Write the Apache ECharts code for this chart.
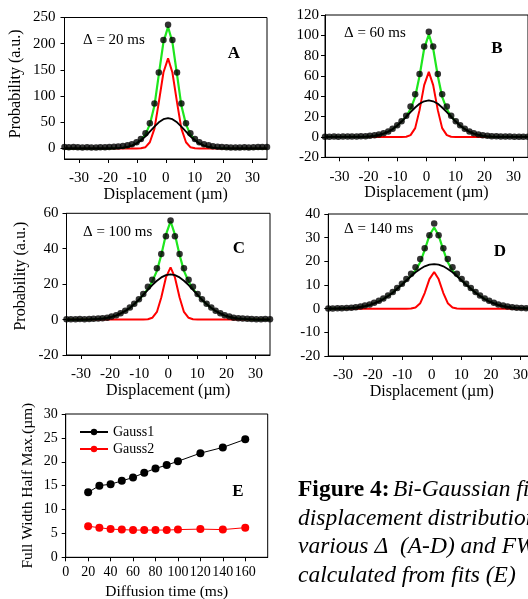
<!DOCTYPE html>
<html><head><meta charset="utf-8">
<script src="https://cdn.jsdelivr.net/npm/echarts@6/dist/echarts.min.js"></script>
<style>html,body{margin:0;padding:0;background:#fff}#c{width:528px;height:599px}</style>
</head><body><div id="c"></div><script>
const FONT = '"Liberation Serif","Times New Roman",serif';

// Displacement grid (µm), shared by panels A-D
const displacement = [-35.0,-33.5,-31.9,-30.4,-28.8,-27.2,-25.7,-24.1,-22.6,-21.0,-19.5,-17.9,-16.4,-14.8,-13.2,-11.7,-10.1,-8.6,-7.0,-5.5,-3.9,-2.4,-0.8,0.8,2.3,3.9,5.4,7.0,8.5,10.1,11.6,13.2,14.8,16.3,17.9,19.4,21.0,22.5,24.1,25.6,27.2,28.7,30.3,31.9,33.4,35.0];

// Panel A (Δ = 20 ms)
const A_dots  = [3,2.5,3,2.5,2,2.5,2,2,2.5,2.5,3,3.5,4,5,6,8,12,18,29,48,86,145,207,236,207,145,86,48,29,18,12,8,6,4.5,3.5,3,2.5,2,2,2,2.5,2,2.5,3,3,3];
const A_green = [0,0,0,0,0,0,0,0,0,0,0.4,0.6,1,1.8,3.2,5.8,10,16.5,27,46,82,141,203,232,203,141,82,46,27,16.5,10,5.8,3.2,1.8,1,0.6,0.4,0,0,0,0,0,0,0,0,0];
const A_red   = [0,0,0,0,0,0,0,0,0,0,0,0,0,0,0,0,0,0.4,2.5,12,38,88,145,172,145,88,38,12,2.5,0.4,0,0,0,0,0,0,0,0,0,0,0,0,0,0,0,0];
const A_black = [0,0,0,0,0,0,0,0,0,0,0.1,0.3,0.7,1.5,2.9,5.5,9.6,15.4,23.1,32.2,41.6,50,56,58,56,50,41.6,32.2,23.1,15.4,9.6,5.5,2.9,1.5,0.7,0.3,0.1,0,0,0,0,0,0,0,0,0];

// Panel B (Δ = 60 ms)
const B_dots  = [0.3,0.3,0.4,0.3,0.4,0.4,0.5,0.5,0.6,0.8,1.1,1.6,2.4,3.7,5.5,8,11.5,15.5,21,30,42,62,89,103.5,89,62,42,30,21,15.5,11.5,8,5.5,3.7,2.4,1.6,1.1,0.8,0.6,0.5,0.4,0.4,0.3,0.3,0.3,0.3];
const B_green = [0,0,0,0,0,0,0,0,0.15,0.3,0.6,1.1,2,3.3,5.1,7.7,11.1,15.3,20.2,27.5,39.5,60,87,101,87,60,39.5,27.5,20.2,15.3,11.1,7.7,5.1,3.3,2,1.1,0.6,0.3,0.15,0,0,0,0,0,0,0];
const B_red   = [0,0,0,0,0,0,0,0,0,0,0,0,0,0,0,0,0,0,0.25,1.8,8.7,26.4,51,64,51,26.4,8.7,1.8,0.25,0,0,0,0,0,0,0,0,0,0,0,0,0,0,0,0,0];
const B_black = [0,0,0,0,0,0,0,0,0.15,0.3,0.6,1.1,2,3.3,5.1,7.7,11.1,15.2,19.7,24.5,29,32.7,35.1,36,35.1,32.7,29,24.5,19.7,15.2,11.1,7.7,5.1,3.3,2,1.1,0.6,0.3,0.15,0,0,0,0,0,0,0];

// Panel C (Δ = 100 ms)
const C_dots  = [0.2,0.2,0.2,0.3,0.2,0.3,0.4,0.6,0.8,1.1,1.7,2.5,3.6,5,6.8,9,11.5,14.5,18.5,22.5,29,37,47,56,47,37,29,22.5,18.5,14.5,11.5,9,6.8,5,3.6,2.5,1.7,1.1,0.8,0.6,0.4,0.3,0.2,0.2,0.3,0.2];
const C_green = [0,0,0,0,0,0.1,0.2,0.35,0.59,0.96,1.5,2.3,3.4,4.8,6.6,8.7,11.2,14,17.3,21.5,27.5,36.5,48,55.5,48,36.5,27.5,21.5,17.3,14,11.2,8.7,6.6,4.8,3.4,2.3,1.5,0.96,0.59,0.35,0.2,0.1,0,0,0,0];
const C_red   = [0,0,0,0,0,0,0,0,0,0,0,0,0,0,0,0,0,0,0.15,1,4.3,12.5,23.8,29.5,23.8,12.5,4.3,1,0.15,0,0,0,0,0,0,0,0,0,0,0,0,0,0,0,0,0];
const C_black = [0,0,0,0,0,0.1,0.2,0.35,0.59,0.96,1.5,2.3,3.4,4.8,6.6,8.7,11.2,13.9,16.8,19.5,21.9,23.8,25.1,25.5,25.1,23.8,21.9,19.5,16.8,13.9,11.2,8.7,6.6,4.8,3.4,2.3,1.5,0.96,0.59,0.35,0.2,0.1,0,0,0,0];

// Panel D (Δ = 140 ms)
const D_dots  = [0.1,0.1,0.2,0.2,0.3,0.4,0.6,0.9,1.3,1.8,2.5,3.3,4.3,5.6,7,8.7,10.5,12.5,14.8,17.5,21,25.5,31,36,31,25.5,21,17.5,14.8,12.5,10.5,8.7,7,5.6,4.3,3.3,2.5,1.8,1.3,0.9,0.6,0.4,0.3,0.2,0.2,0.1];
const D_green = [0.03,0.05,0.08,0.12,0.2,0.32,0.5,0.75,1.1,1.6,2.3,3.1,4.1,5.4,6.8,8.5,10.2,12,13.9,16.2,19.6,24.8,31,34.3,31,24.8,19.6,16.2,13.9,12,10.2,8.5,6.8,5.4,4.1,3.1,2.3,1.6,1.1,0.75,0.5,0.32,0.2,0.12,0.08,0.05];
const D_red   = [0,0,0,0,0,0,0,0,0,0,0,0,0,0,0,0,0,0,0.07,0.5,2.3,6.6,12.5,15.5,12.5,6.6,2.3,0.5,0.07,0,0,0,0,0,0,0,0,0,0,0,0,0,0,0,0,0];
const D_black = [0.02,0.04,0.07,0.11,0.19,0.3,0.46,0.7,1.05,1.5,2.2,3,4,5.3,6.7,8.4,10.1,11.9,13.7,15.4,16.8,17.9,18.6,18.8,18.6,17.9,16.8,15.4,13.7,11.9,10.1,8.4,6.7,5.3,4,3,2.2,1.5,1.05,0.7,0.46,0.3,0.19,0.11,0.07,0.04];

// Panel E
const diffusionTime = [20,30,40,50,60,70,80,90,100,120,140,160];
const gauss1 = [13.6,15.0,15.3,16.0,16.7,17.7,18.6,19.3,20.1,21.8,23.0,24.7];
const gauss2 = [6.5,6.2,5.9,5.8,5.7,5.7,5.7,5.7,5.8,5.9,5.8,6.2];

// Tick labels
const dispTicks = [-30,-20,-10,0,10,20,30];
const ticksA = [0,50,100,150,200,250];
const deltaLabels = ['Δ = 20 ms','Δ = 60 ms','Δ = 100 ms','Δ = 140 ms'];
const panelLetters = ['A','B','C','D','E'];

const panels = [
  {dots:A_dots, green:A_green, red:A_red, black:A_black, grid:{left:64.5,top:17.5,width:202.5,height:141.5}, y:{min:-20,max:250,custom:ticksA}, lm:9, yname:'Probability (a.u.)', ygap:41, ypad:9},
  {dots:B_dots, green:B_green, red:B_red, black:B_black, grid:{left:325,top:15,width:203,height:142.3}, y:{min:-20,max:120,interval:20}, lm:6},
  {dots:C_dots, green:C_green, red:C_red, black:C_black, grid:{left:66.5,top:213.3,width:203.5,height:141.7}, y:{min:-20,max:60,interval:20}, lm:8, yname:'Probability (a.u.)', ygap:38, ypad:16},
  {dots:D_dots, green:D_green, red:D_red, black:D_black, grid:{left:328.3,top:214,width:207,height:142}, y:{min:-20,max:40,interval:10}, lm:8}
];
const pairs = ys => displacement.map((x,i)=>[x, ys[i]]);
const blk = {color:'#000'};
const grids=[], xAxes=[], yAxes=[], series=[];
panels.forEach((p,i)=>{
  grids.push(Object.assign({show:true, borderColor:'#000', borderWidth:1, backgroundColor:'transparent', outerBoundsMode:'none', containLabel:false}, p.grid));
  xAxes.push({gridIndex:i, type:'value', min:-35, max:35,
    axisLine:{show:true, onZero:false, lineStyle:blk},
    axisTick:{show:true, customValues:dispTicks, length:4, lineStyle:blk},
    axisLabel:{customValues:dispTicks, margin:12, fontFamily:FONT, fontSize:15, color:'#000'},
    splitLine:{show:false},
    name:'Displacement (µm)', nameLocation:'middle', nameGap:26,
    nameTextStyle:{fontFamily:FONT, fontSize:16, color:'#000'}});
  const ya = {gridIndex:i, type:'value', min:p.y.min, max:p.y.max,
    axisLine:{show:true, onZero:false, lineStyle:blk},
    axisTick:{show:true, length:4, lineStyle:blk},
    axisLabel:{margin:p.lm, fontFamily:FONT, fontSize:15, color:'#000'},
    splitLine:{show:false}};
  if (p.y.interval) ya.interval = p.y.interval;
  if (p.y.custom) { ya.axisTick.customValues = p.y.custom; ya.axisLabel.customValues = p.y.custom; }
  if (p.yname) { ya.name = p.yname; ya.nameLocation='middle'; ya.nameGap=p.ygap;
    ya.nameTextStyle={fontFamily:FONT, fontSize:16, color:'#000', padding:[0,0,0,p.ypad]}; }
  yAxes.push(ya);
  series.push({type:'line', xAxisIndex:i, yAxisIndex:i, data:pairs(p.red), showSymbol:false, symbol:'none', lineStyle:{color:'#ff0000', width:2}, z:2, silent:true});
  series.push({type:'line', xAxisIndex:i, yAxisIndex:i, data:pairs(p.green), showSymbol:false, symbol:'none', lineStyle:{color:'#1ee61e', width:2.2}, z:3, silent:true});
  series.push({type:'line', xAxisIndex:i, yAxisIndex:i, data:pairs(p.black), showSymbol:false, symbol:'none', lineStyle:{color:'#000', width:1.8}, z:4, silent:true});
  series.push({type:'scatter', xAxisIndex:i, yAxisIndex:i, data:pairs(p.dots), symbol:'circle', symbolSize:6.5, itemStyle:{color:'#000'}, z:5, silent:true});
});
// Panel E
grids.push({show:true, borderColor:'#000', borderWidth:1, backgroundColor:'transparent', outerBoundsMode:'none', containLabel:false, left:65.7, top:414, width:202, height:143.3});
xAxes.push({gridIndex:4, type:'value', min:0, max:180, interval:20,
  axisLine:{show:true, onZero:false, lineStyle:blk}, axisTick:{show:true, length:4, lineStyle:blk},
  axisLabel:{showMaxLabel:false, margin:8, fontFamily:FONT, fontSize:14, color:'#000'}, splitLine:{show:false},
  name:'Diffusion time (ms)', nameLocation:'middle', nameGap:27, nameTextStyle:{fontFamily:FONT, fontSize:15.5, color:'#000'}});
yAxes.push({gridIndex:4, type:'value', min:0, max:30, interval:5,
  axisLine:{show:true, onZero:false, lineStyle:blk}, axisTick:{show:true, length:4, lineStyle:blk},
  axisLabel:{margin:8, fontFamily:FONT, fontSize:14, color:'#000'}, splitLine:{show:false},
  name:'Full Width Half Max.(µm)', nameLocation:'middle', nameGap:30, nameTextStyle:{fontFamily:FONT, fontSize:15.5, color:'#000'}});
series.push({name:'Gauss1', type:'line', xAxisIndex:4, yAxisIndex:4, data:diffusionTime.map((t,i)=>[t,gauss1[i]]), symbol:'circle', symbolSize:8, itemStyle:{color:'#000'}, lineStyle:{color:'#000', width:1}, z:5});
series.push({name:'Gauss2', type:'line', xAxisIndex:4, yAxisIndex:4, data:diffusionTime.map((t,i)=>[t,gauss2[i]]), symbol:'circle', symbolSize:8, itemStyle:{color:'#ff0000'}, lineStyle:{color:'#ff0000', width:1}, z:5});

const txt = (x,y,t,extra)=>({type:'text', x:x, y:y, silent:true, style:Object.assign({text:t, fill:'#000', font:'15px '+FONT, textAlign:'left', textVerticalAlign:'middle'}, extra||{})});
const graphics = [
  txt(83,40,deltaLabels[0]), txt(344,33,deltaLabels[1]), txt(83,232,deltaLabels[2]), txt(344,229,deltaLabels[3]),
  txt(234,54,panelLetters[0],{font:'bold 17px '+FONT, textAlign:'center'}),
  txt(497,49,panelLetters[1],{font:'bold 17px '+FONT, textAlign:'center'}),
  txt(239,249,panelLetters[2],{font:'bold 17px '+FONT, textAlign:'center'}),
  txt(500,252,panelLetters[3],{font:'bold 17px '+FONT, textAlign:'center'}),
  txt(238,492,panelLetters[4],{font:'bold 17px '+FONT, textAlign:'center'}),
  {type:'text', x:298, y:476, silent:true, style:{
    text:'{b|Figure 4:} {i|Bi-Gaussian fits of the}\n{i|displacement distributions for}\n{i|various Δ  (A-D) and FWHM}\n{i|calculated from fits (E)}',
    fill:'#000', textAlign:'left', textVerticalAlign:'top',
    rich:{b:{fontWeight:'bold', fontSize:23.5, fontFamily:FONT, lineHeight:28.5, fill:'#000'},
          i:{fontStyle:'italic', fontSize:23.5, fontFamily:FONT, lineHeight:28.5, fill:'#000'}}}}
];

const chart = echarts.init(document.getElementById('c'), null, {renderer:'canvas'});
chart.setOption({
  animation:false, backgroundColor:'#fff',
  grid:grids, xAxis:xAxes, yAxis:yAxes, series:series,
  legend:{data:['Gauss1','Gauss2'], left:74, top:420, orient:'vertical', itemWidth:28, itemHeight:8, itemGap:3,
    textStyle:{fontFamily:FONT, fontSize:14, color:'#000'}},
  graphic:{elements:graphics}
});
</script></body></html>
